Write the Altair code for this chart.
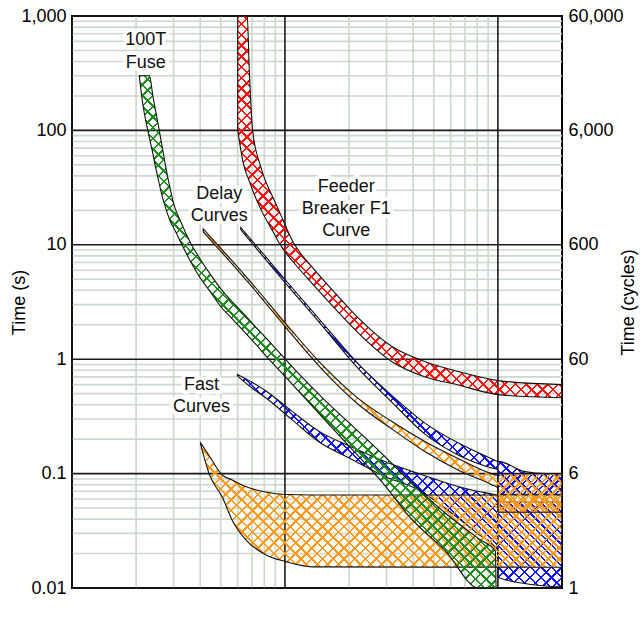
import math
import altair as alt
import pandas as pd

FONT = "Liberation Sans"
X_DOMAIN = [100, 20000]
Y_DOMAIN = [0.01, 1000]
PLOT_W = 490
PLOT_H = 572

# ---------------- grid / tick values ----------------
x_major = [100, 1000, 10000]
x_minor = [200, 300, 400, 500, 600, 700, 800, 900,
           2000, 3000, 4000, 5000, 6000, 7000, 8000, 9000]
y_major = [0.01, 0.1, 1, 10, 100, 1000]
y_minor = [0.02, 0.03, 0.04, 0.05, 0.06, 0.07, 0.08, 0.09,
           0.2, 0.3, 0.4, 0.5, 0.6, 0.7, 0.8, 0.9,
           2, 3, 4, 5, 6, 7, 8, 9,
           20, 30, 40, 50, 60, 70, 80, 90,
           200, 300, 400, 500, 600, 700, 800, 900]

# ---------------- bands (current A, lower time s, upper time s) ----------------
red_cur = [600, 640, 665, 680, 705, 770, 890, 940, 1100, 1340, 1740, 2220, 3180, 4560, 6530, 10050, 20000]
red_lo = [100, 50, 40, 36, 30, 20.5, 12.5, 10.3, 7.0, 4.6, 2.7, 1.68, 0.95, 0.70, 0.595, 0.49, 0.46]
red_hi = [1000, 1000, 1000, 340, 100, 48, 24.6, 19.6, 10.3, 6.4, 3.7, 2.27, 1.29, 0.95, 0.78, 0.65, 0.60]

green_cur = [207, 215, 227, 231, 240, 245, 252, 257, 266, 280, 292, 297, 326, 361, 398, 450, 501,
             560, 631, 720, 841, 968, 1200, 1500, 2153, 2846, 3936, 5675, 8110, 9730, 9800]
green_lo = [300, 170, 100, 86, 62, 51, 40, 34, 26, 19, 15.4, 14.6, 10.3, 7.1, 5.2, 3.8, 2.86,
            2.3, 1.81, 1.39, 1.0, 0.755, 0.49, 0.31, 0.15, 0.085, 0.04, 0.021, 0.01, 0.01, 0.01]
green_hi = [300, 300, 300, 300, 198, 160, 122, 100, 69, 41, 28.4, 24.6, 15.5, 10.3, 7.6, 5.4, 4.1,
            3.24, 2.57, 1.96, 1.44, 1.08, 0.70, 0.46, 0.245, 0.15, 0.083, 0.045, 0.027, 0.021, 0.01]

bdel_cur = [620, 1008, 1500, 2221, 3182, 4560, 6531, 9348, 10000, 10010, 13400, 16700, 20000]
bdel_lo = [13.6, 4.6, 1.95, 0.82, 0.42, 0.22, 0.145, 0.112, 0.108, 0.066, 0.066, 0.066, 0.066]
bdel_hi = [14.2, 4.9, 2.08, 0.9, 0.48, 0.275, 0.185, 0.135, 0.128, 0.128, 0.104, 0.1, 0.1]

odel_cur = [413, 700, 1008, 1490, 2221, 3182, 4560, 6531, 9348, 10000, 10010, 20000]
odel_lo = [13.0, 4.3, 1.9, 0.82, 0.40, 0.245, 0.155, 0.107, 0.08, 0.075, 0.046, 0.046]
odel_hi = [13.8, 4.6, 2.05, 0.9, 0.45, 0.285, 0.19, 0.135, 0.1, 0.097, 0.1, 0.1]

bfast_cur = [598, 700, 812, 1081, 1442, 2066, 2963, 4242, 6076, 8000, 10000, 10010, 14000, 20000]
bfast_lo = [0.715, 0.56, 0.46, 0.295, 0.19, 0.133, 0.094, 0.072, 0.045, 0.03, 0.021, 0.0124, 0.0108, 0.0102]
bfast_hi = [0.735, 0.63, 0.53, 0.35, 0.235, 0.17, 0.127, 0.1, 0.08, 0.07, 0.064, 0.0565, 0.0565, 0.0565]

ofast_cur = [402, 440, 508, 566, 654, 812, 1008, 1342, 20000]
ofast_lo = [0.18, 0.1, 0.062, 0.039, 0.0265, 0.0195, 0.017, 0.0153, 0.0152]
ofast_hi = [0.185, 0.144, 0.097, 0.088, 0.077, 0.069, 0.0656, 0.065, 0.065]

# ---------------- annotations ----------------
ann_text = ["100T", "Fuse", "Delay", "Curves", "Feeder", "Breaker F1", "Curve", "Fast", "Curves"]
ann_cur = [222, 222, 491, 491, 1941, 1941, 1941, 406, 406]
ann_t = [617, 386, 27.8, 17.9, 32.2, 20.4, 13.3, 0.595, 0.385]

# ---------------- styles ----------------
RED = "#ff1010"
GREEN = "#1e8c1e"
BLUE = "#1414ff"
ORANGE = "#ff9a1a"
MINOR = "#cbd8cb"
MAJOR = "#1a1a1a"
CLEAR = "rgba(255,255,255,0)"
HATCH_PERIOD = 7.6
HATCH_WIDTH = 1.7

xs = alt.Scale(type="log", domain=X_DOMAIN, nice=False)
ys = alt.Scale(type="log", domain=Y_DOMAIN, nice=False)


def xpx(a):
    return PLOT_W * (math.log10(a) - math.log10(X_DOMAIN[0])) / (math.log10(X_DOMAIN[1]) - math.log10(X_DOMAIN[0]))


def ypx(t):
    return PLOT_H * (math.log10(Y_DOMAIN[1]) - math.log10(t)) / (math.log10(Y_DOMAIN[1]) - math.log10(Y_DOMAIN[0]))


def hatch(color, cur, lo, hi, flip):
    W = max(xpx(max(cur)) - xpx(min(cur)), 1.0)
    H = max(ypx(min(lo)) - ypx(max(hi)), 1.0)
    k = (W + H) / (W * W + H * H)
    n = (W + H) / (math.sqrt(2) * HATCH_PERIOD)
    w = HATCH_WIDTH / HATCH_PERIOD
    stops = [alt.GradientStop(offset=0, color=CLEAR)]
    i = 0
    while i < n:
        a = round(min(i / n, 1), 6)
        b = round(min((i + w) / n, 1), 6)
        stops += [alt.GradientStop(offset=a, color=CLEAR), alt.GradientStop(offset=a, color=color),
                  alt.GradientStop(offset=b, color=color), alt.GradientStop(offset=b, color=CLEAR)]
        i += 1
    stops.append(alt.GradientStop(offset=1, color=CLEAR))
    if flip:
        return alt.LinearGradient(gradient="linear", stops=stops, x1=0, y1=1, x2=k * W, y2=1 - k * H)
    return alt.LinearGradient(gradient="linear", stops=stops, x1=0, y1=0, x2=k * W, y2=k * H)


def band(cur, lo, hi, color):
    df = pd.DataFrame({"cur": cur, "lo": lo, "hi": hi})
    enc = dict(x=alt.X("cur:Q", scale=xs, axis=None),
               y=alt.Y("lo:Q", scale=ys, axis=None),
               y2=alt.Y2("hi:Q"))
    a = alt.Chart(df).mark_area(fill=hatch(color, cur, lo, hi, False), strokeWidth=0, opacity=1,
                                clip=True, interpolate="monotone").encode(**enc)
    b = alt.Chart(df).mark_area(fill=hatch(color, cur, lo, hi, True), stroke="#111111", strokeWidth=1.1,
                                opacity=1, clip=True, interpolate="monotone").encode(**enc)
    return [a, b]


def vrules(vals, color, width):
    return alt.Chart(pd.DataFrame({"v": vals})).mark_rule(color=color, strokeWidth=width).encode(
        x=alt.X("v:Q", scale=xs, axis=None))


def hrules(vals, color, width):
    return alt.Chart(pd.DataFrame({"v": vals})).mark_rule(color=color, strokeWidth=width).encode(
        y=alt.Y("v:Q", scale=ys, axis=None))


bottom_axis = alt.Axis(values=x_major, format=",", grid=False, ticks=False, domain=False,
                       labelFont=FONT, labelFontSize=18, labelColor="black", labelPadding=4,
                       labelFlush=False, labelOverlap=False,
                       title="Current (A)", titleFont=FONT, titleFontSize=18, titleFontWeight="normal",
                       titleColor="black", titleX=221, titleY=43, titleAlign="center",
                       titleBaseline="alphabetic")
left_axis = alt.Axis(values=y_major, format=",", grid=False, ticks=False, domain=False, orient="left",
                     labelFont=FONT, labelFontSize=18, labelColor="black", labelPadding=6,
                     labelOverlap=False,
                     title="Time (s)", titleFont=FONT, titleFontSize=18, titleFontWeight="normal",
                     titleColor="black", titleAngle=270, titleX=-53, titleY=286, titleAlign="center",
                     titleBaseline="middle")
right_axis = alt.Axis(values=y_major, grid=False, ticks=False, domain=False, orient="right",
                      labelExpr="datum.value < 0.05 ? '1' : format(datum.value * 60, ',')",
                      labelFont=FONT, labelFontSize=18, labelColor="black", labelPadding=6,
                      labelOverlap=False,
                      title="Time (cycles)", titleFont=FONT, titleFontSize=18, titleFontWeight="normal",
                      titleColor="black", titleAngle=270, titleX=66, titleY=286, titleAlign="center",
                      titleBaseline="middle")

grid_layers = [
    vrules(x_minor, MINOR, 1.6),
    hrules(y_minor, MINOR, 1.6),
    alt.Chart(pd.DataFrame({"v": x_major})).mark_rule(color=MAJOR, strokeWidth=1.6).encode(
        x=alt.X("v:Q", scale=xs, axis=bottom_axis)),
    alt.Chart(pd.DataFrame({"v": y_major})).mark_rule(color=MAJOR, strokeWidth=1.6).encode(
        y=alt.Y("v:Q", scale=ys, axis=left_axis)),
    alt.Chart(pd.DataFrame({"v": y_major})).mark_rule(opacity=0).encode(
        y=alt.Y("v:Q", scale=ys, axis=right_axis)),
]

ann_df = pd.DataFrame({"label": ann_text, "cur": ann_cur, "t": ann_t})
ann_enc = dict(x=alt.X("cur:Q", scale=xs, axis=None), y=alt.Y("t:Q", scale=ys, axis=None), text="label:N")
halo = alt.Chart(ann_df).mark_text(font=FONT, fontSize=18, color="white", stroke="white", strokeWidth=8,
                                   strokeJoin="round", align="center", baseline="middle").encode(**ann_enc)
labels = alt.Chart(ann_df).mark_text(font=FONT, fontSize=18, color="#111111", align="center",
                                     baseline="middle").encode(**ann_enc)

band_layers = (band(bfast_cur, bfast_lo, bfast_hi, BLUE)
               + band(bdel_cur, bdel_lo, bdel_hi, BLUE)
               + band(ofast_cur, ofast_lo, ofast_hi, ORANGE)
               + band(odel_cur, odel_lo, odel_hi, ORANGE)
               + band(green_cur, green_lo, green_hi, GREEN)
               + band(red_cur, red_lo, red_hi, RED))

chart = alt.layer(*(grid_layers + [halo] + band_layers + [labels])).properties(
    width=PLOT_W, height=PLOT_H,
    autosize=alt.AutoSizeParams(type="none"),
    padding={"left": 72, "top": 16, "right": 78, "bottom": 48},
    background="white",
).resolve_axis(y="independent").configure_view(stroke="black", strokeWidth=2)

chart.save("out.html", embed_options={"renderer": "svg", "actions": False})
